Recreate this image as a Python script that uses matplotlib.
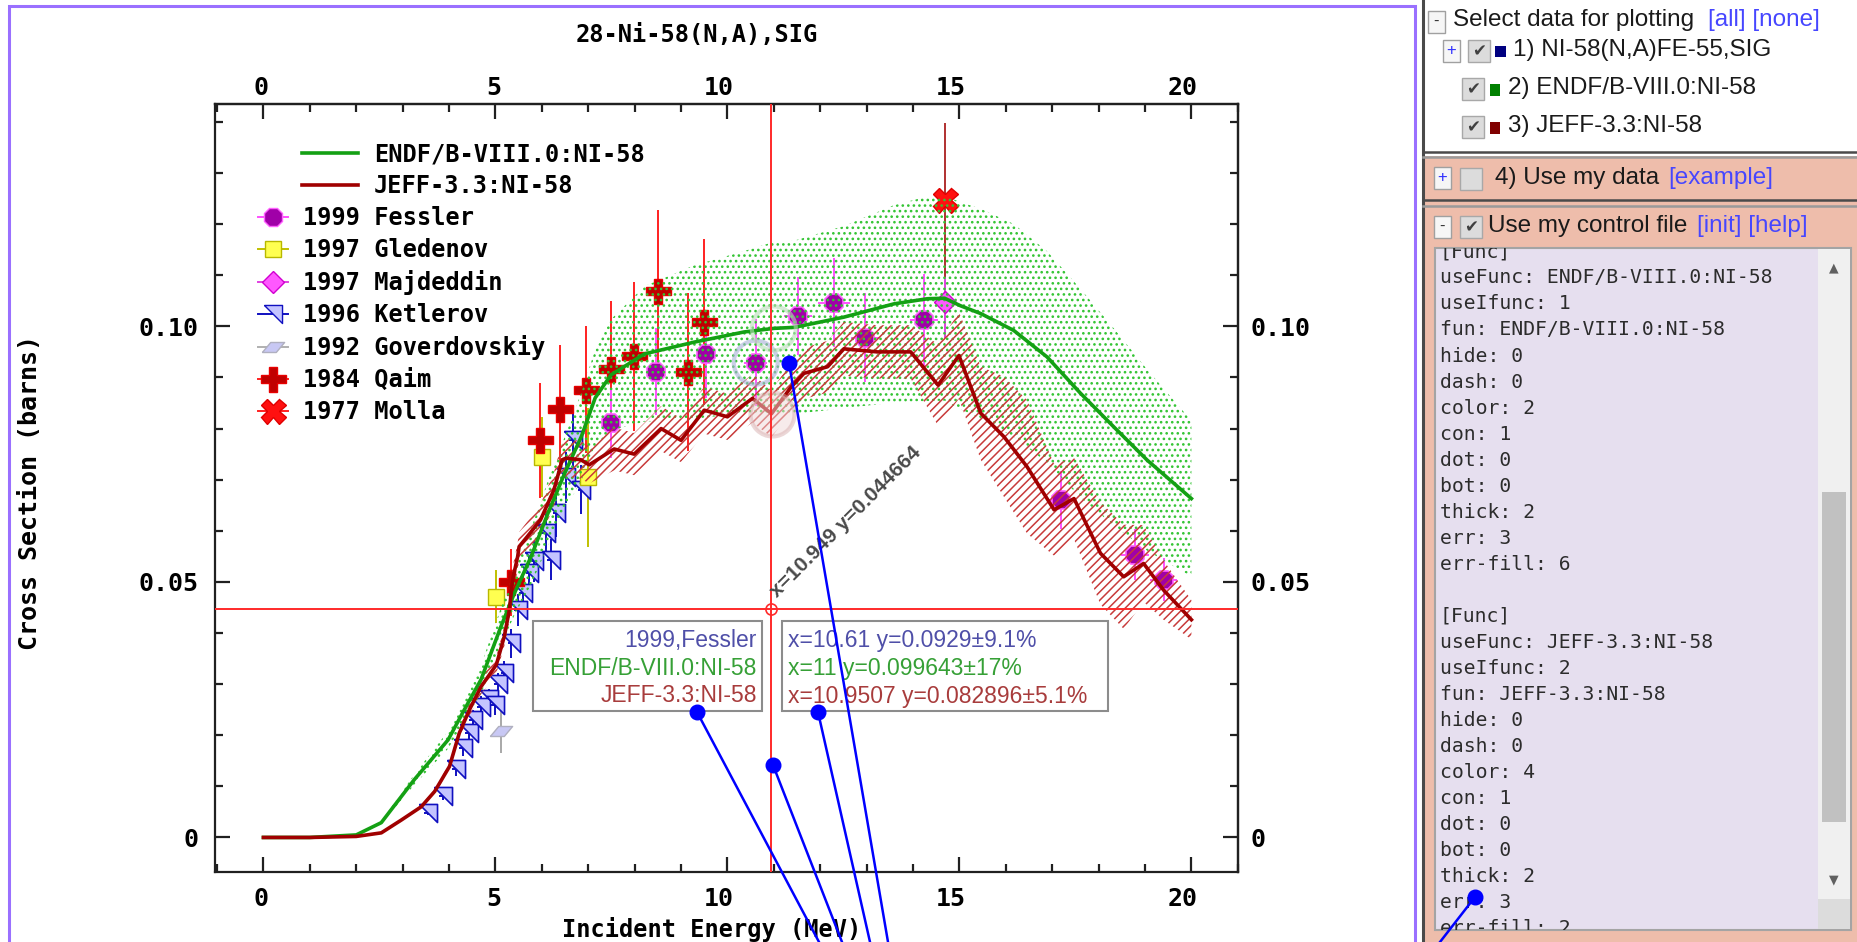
import matplotlib
matplotlib.use("Agg")
import numpy as np
import matplotlib.pyplot as plt
from matplotlib.lines import Line2D
from matplotlib.patches import Rectangle
from matplotlib.transforms import ScaledTranslation
from matplotlib.ticker import MultipleLocator, FixedLocator, FuncFormatter

# evaluated cross sections, energy in MeV, sigma in barns
endf_e = [0.0, 1.0, 2.0, 2.54, 3.25, 3.98, 4.33, 4.69, 5.12, 5.41, 5.77, 6.13, 6.49, 6.85, 7.15, 7.49,
          8.21, 9.28, 10.36, 11.0, 11.44, 12.51, 13.59, 14.31, 14.68, 15.03, 15.46, 16.17, 16.89,
          17.61, 18.33, 19.05, 20.0]
endf_v = [0.0, 0.0, 0.0005, 0.0029, 0.0113, 0.0191, 0.0250, 0.0309, 0.0413, 0.0478, 0.0550, 0.0634,
          0.0712, 0.0784, 0.0860, 0.0905, 0.0946, 0.0969, 0.0989, 0.0996, 0.0998, 0.1018, 0.1044,
          0.1054, 0.1055, 0.1040, 0.1025, 0.0992, 0.0940, 0.0869, 0.0803, 0.0738, 0.0663]
endf_unc = [0.03, 0.03, 0.05, 0.08, 0.09, 0.09, 0.09, 0.09, 0.09, 0.09, 0.10, 0.10, 0.10, 0.11, 0.11,
            0.12, 0.14, 0.155, 0.16, 0.17, 0.17, 0.175, 0.185, 0.19, 0.19, 0.195, 0.20, 0.21, 0.22,
            0.235, 0.24, 0.24, 0.23]

jeff_e = [0.0, 1.0, 2.0, 2.54, 2.97, 3.40, 3.69, 4.01, 4.22, 4.44, 4.69, 5.02, 5.19, 5.30, 5.37,
          5.48, 5.51, 5.69, 5.97, 6.26, 6.44, 6.52, 6.84, 7.02, 7.56, 7.99, 8.57, 9.0, 9.5, 10.0,
          10.54, 10.95, 11.37, 11.65, 12.16, 12.51, 13.23, 13.95, 14.54, 14.99, 15.46, 15.96,
          16.46, 17.04, 17.47, 18.04, 18.54, 18.97, 19.40, 20.0]
jeff_v = [0.0, 0.0, 0.0002, 0.0009, 0.0034, 0.0060, 0.0090, 0.0139, 0.0204, 0.0250, 0.0295, 0.0338,
          0.0393, 0.0445, 0.0504, 0.0550, 0.0569, 0.0589, 0.0621, 0.0680, 0.0739, 0.0742, 0.0739,
          0.0729, 0.0760, 0.0750, 0.0800, 0.0777, 0.0836, 0.0823, 0.0859, 0.0829, 0.0881, 0.0908,
          0.0921, 0.0956, 0.0950, 0.0950, 0.0885, 0.0943, 0.0830, 0.0784, 0.0725, 0.0641, 0.0663,
          0.0556, 0.0510, 0.0536, 0.0484, 0.0426]
jeff_unc = [0.03, 0.03, 0.03, 0.04] + [0.05] * 20 + [0.055] * 14 + \
           [0.09, 0.09, 0.11, 0.15, 0.18, 0.14, 0.12, 0.18, 0.20, 0.14, 0.12, 0.09]

# measurements (EXFOR)
fessler_e = [7.48, 8.47, 9.54, 10.61, 11.53, 12.30, 12.96, 14.24, 17.18, 18.79, 19.40]
fessler_v = [0.0810, 0.0911, 0.0946, 0.0929, 0.1020, 0.1046, 0.0978, 0.1012, 0.0660, 0.0553, 0.0504]
fessler_dv = [0.0068, 0.0085, 0.0086, 0.0085, 0.0077, 0.0087, 0.0087, 0.0090, 0.0056, 0.0050, 0.0042]
fessler_de = [0.2, 0.2, 0.2, 0.25, 0.3, 0.35, 0.3, 0.3, 0.3, 0.3, 0.3]

gledenov_e = [5.02, 6.0, 7.0]
gledenov_v = [0.0471, 0.0745, 0.0705]
gledenov_dv = [0.0052, 0.0078, 0.0136]

majdeddin_e = [14.68]
majdeddin_v = [0.1047]
majdeddin_dv = [0.007]

ketlerov_e = [3.55, 3.87, 4.15, 4.30, 4.42, 4.51, 4.69, 4.87, 4.98, 5.05, 5.19, 5.34, 5.48, 5.59,
              5.73, 5.84, 6.09, 6.20, 6.31, 6.52, 6.67, 6.85]
ketlerov_v = [0.0048, 0.0081, 0.0133, 0.0175, 0.0204, 0.0230, 0.0256, 0.0270, 0.0260, 0.0300, 0.0322,
              0.0380, 0.0445, 0.0478, 0.0517, 0.0540, 0.0595, 0.0543, 0.0634, 0.0705, 0.0777, 0.0680]
ketlerov_dv = [0.0005, 0.0008, 0.0012, 0.0015, 0.0017, 0.0019, 0.0020, 0.0020, 0.0020, 0.0022, 0.0024,
               0.0028, 0.0032, 0.0035, 0.0038, 0.0040, 0.0043, 0.0040, 0.0046, 0.0050, 0.0055, 0.0048]

goverdovskiy_e = [5.11]
goverdovskiy_v = [0.0208]
goverdovskiy_dv = [0.0042]

qaim_e = [5.34, 5.97, 6.39, 6.95, 7.48, 7.98, 8.51, 9.16, 9.50]
qaim_v = [0.0499, 0.0777, 0.0839, 0.0876, 0.0917, 0.0941, 0.1070, 0.0911, 0.1008]
qaim_dv = [0.0065, 0.0112, 0.0125, 0.0124, 0.0133, 0.0146, 0.0157, 0.0154, 0.0162]

molla_e = [14.68]
molla_v = [0.1247]
molla_dv = [0.015]

cross_x, cross_y = 10.949, 0.044664

control_lines = ["[Func]", "useFunc: ENDF/B-VIII.0:NI-58", "useIfunc: 1", "fun: ENDF/B-VIII.0:NI-58",
                 "hide: 0", "dash: 0", "color: 2", "con: 1", "dot: 0", "bot: 0", "thick: 2", "err: 3",
                 "err-fill: 6", "", "[Func]", "useFunc: JEFF-3.3:NI-58", "useIfunc: 2",
                 "fun: JEFF-3.3:NI-58", "hide: 0", "dash: 0", "color: 4", "con: 1", "dot: 0", "bot: 0",
                 "thick: 2", "err: 3", "err-fill: 2"]

# pixel layout of the screenshot
W, H = 1858, 942
MONO = 'DejaVu Sans Mono'
SANS = 'Liberation Sans'

plt.rcParams['font.family'] = MONO
plt.rcParams['font.weight'] = 'bold'
plt.rcParams['font.size'] = 17
plt.rcParams['hatch.linewidth'] = 1.1

fig = plt.figure(figsize=(W / 100, H / 100), dpi=100)


def fx(x):
    return x / W


def fy(y):
    return 1 - y / H


def prect(x0, y0, x1, y1, **kw):
    r = Rectangle((fx(x0), fy(y1)), (x1 - x0) / W, (y1 - y0) / H, transform=fig.transFigure, **kw)
    fig.add_artist(r)
    return r


def ptext(x, y, s, **kw):
    kw.setdefault('va', 'center')
    return fig.text(fx(x), fy(y), s, **kw)


ax = fig.add_axes([fx(215.2), fy(871.7), (1237.8 - 215.2) / W, (871.7 - 104) / H])
ax.set_xlim(-1.04, 21.0)
ax.set_ylim(-0.0067, 0.1435)
for s in ax.spines.values():
    s.set_linewidth(1.6)
    s.set_color('#202020')

xticks = [0, 5, 10, 15, 20]
xfmt = FuncFormatter(lambda v, p: '%d' % round(v))
yfmt = FuncFormatter(lambda v, p: '0' if abs(v) < 1e-9 else '%.2f' % v)
ax.xaxis.set_major_locator(FixedLocator(xticks))
ax.xaxis.set_minor_locator(MultipleLocator(1))
ax.xaxis.set_major_formatter(xfmt)
ax.yaxis.set_major_locator(FixedLocator([0, 0.05, 0.10]))
ax.yaxis.set_minor_locator(MultipleLocator(0.01))
ax.yaxis.set_major_formatter(yfmt)
ax.tick_params(which='both', direction='in', width=1.6, color='#202020', top=False, right=False,
               labelsize=18)
ax.tick_params(which='major', length=11)
ax.tick_params(which='minor', length=6)
ax.tick_params(axis='x', pad=11)
ax.tick_params(axis='y', pad=12)

top = ax.secondary_xaxis('top')
top.xaxis.set_major_locator(FixedLocator(xticks))
top.xaxis.set_minor_locator(MultipleLocator(1))
top.xaxis.set_major_formatter(xfmt)
top.tick_params(which='both', direction='in', width=1.6, color='#202020', pad=3, labelsize=18)
top.tick_params(which='major', length=11)
top.tick_params(which='minor', length=6)
rgt = ax.secondary_yaxis('right')
rgt.yaxis.set_major_locator(FixedLocator([0, 0.05, 0.10]))
rgt.yaxis.set_minor_locator(MultipleLocator(0.01))
rgt.yaxis.set_major_formatter(yfmt)
rgt.tick_params(which='both', direction='in', width=1.6, color='#202020', pad=9.5, labelsize=18)
rgt.tick_params(which='major', length=11)
rgt.tick_params(which='minor', length=6)
for sa in (top, rgt):
    for s in sa.spines.values():
        s.set_linewidth(1.6)
        s.set_color('#202020')

# the energy labels sit slightly left of their ticks in the original
for xa in (ax.xaxis, top.xaxis):
    for i, t in enumerate(xa.get_major_ticks(len(xticks))):
        off = ScaledTranslation((-2 if xticks[i] < 10 else -9) / 100, 0, fig.dpi_scale_trans)
        t.label1.set_transform(t.label1.get_transform() + off)
        t.label2.set_transform(t.label2.get_transform() + off)

# uncertainty bands
ev, eu = np.array(endf_v), np.array(endf_unc)
jv, ju = np.array(jeff_v), np.array(jeff_unc)
ax.fill_between(endf_e, ev * (1 - eu), ev * (1 + eu), facecolor='none', edgecolor='#33c433',
                hatch='...', linewidth=0, zorder=3)
ax.fill_between(jeff_e, jv * (1 - ju), jv * (1 + ju), facecolor='none', edgecolor='#c83a3a',
                hatch='////', linewidth=0, zorder=3)

# experimental points
eb = dict(linestyle='none', elinewidth=1.4, capsize=0, zorder=2)
ket_marker = [(-1, 1), (1, 1), (1, -1), (-1, 1)]
gov_marker = [(-1, -0.45), (0.25, -0.45), (1, 0.45), (-0.25, 0.45), (-1, -0.45)]
ax.errorbar(ketlerov_e, ketlerov_v, yerr=ketlerov_dv, xerr=0.08, marker=ket_marker, ms=13,
            mfc='#c4c4ff', mec='#1010c0', mew=1.2, ecolor='#1010c0', **eb)
ax.errorbar(goverdovskiy_e, goverdovskiy_v, yerr=goverdovskiy_dv, marker=gov_marker, ms=16,
            mfc='#c8c8f4', mec='#b0b0c0', ecolor='#a8a8a8', **eb)
ax.errorbar(gledenov_e, gledenov_v, yerr=gledenov_dv, marker='s', ms=12, mfc='#ffff50',
            mec='#b8b800', ecolor='#c0c000', **eb)
ax.errorbar(qaim_e, qaim_v, yerr=qaim_dv, marker='P', ms=18, mfc='#c00000', mec='#e80000',
            ecolor='#ff2020', **eb)
ax.errorbar(fessler_e, fessler_v, yerr=fessler_dv, xerr=fessler_de, marker='8', ms=14,
            mfc='#a000a8', mec='#ff60ff', mew=1.2, ecolor='#ff50ff', **eb)
ax.errorbar(majdeddin_e, majdeddin_v, yerr=majdeddin_dv, marker='D', ms=11.5, mfc='#ff58ff',
            mec='#d000d0', ecolor='#e040e0', **eb)
ax.errorbar(molla_e, molla_v, yerr=molla_dv, marker='X', ms=18, mfc='#ff1010', mec='#e00000',
            ecolor='#b03030', **eb)

# evaluated curves
ax.plot(endf_e, endf_v, color='#14a014', lw=2.6, zorder=5)
ax.plot(jeff_e, jeff_v, color='#a00000', lw=2.6, zorder=6)

# faint highlight rings of the hovered points
ax.scatter([fessler_e[3]], [fessler_v[3]], s=1000, facecolors='none', edgecolors='#a8b0d8',
           linewidths=3, alpha=0.6, zorder=7)
ax.scatter([11.0], [0.0996], s=1000, facecolors='none', edgecolors='#b8dcb8', linewidths=3,
           alpha=0.6, zorder=7)
ax.scatter([10.95], [0.0829], s=1000, facecolors='#f0d8d8', edgecolors='#d8b0b0', linewidths=3,
           alpha=0.5, zorder=7)

# cursor cross-hair
ax.axvline(cross_x, color='#ff2a2a', lw=1.4, zorder=8)
ax.axhline(cross_y, color='#ff2a2a', lw=1.4, zorder=8)
ax.plot([cross_x], [cross_y], marker='o', ms=8, mfc='none', mec='#ff2a2a', mew=1.2, zorder=9)
ax.annotate('x=%s y=%s' % (cross_x, cross_y), (cross_x, cross_y), xytext=(4, 8),
            textcoords='offset points', rotation=45, rotation_mode='anchor', ha='left',
            va='baseline', fontsize=15, family=SANS, fontweight='bold', color='#4a4a4a', zorder=9)

# legends
lh = [Line2D([], [], color='#14a014', lw=2.6), Line2D([], [], color='#a00000', lw=2.6)]
leg1 = ax.legend(lh, ['ENDF/B-VIII.0:NI-58', 'JEFF-3.3:NI-58'], loc='upper left',
                 bbox_to_anchor=(fx(302), fy(142)), bbox_transform=fig.transFigure, frameon=False,
                 borderpad=0, borderaxespad=0, handlelength=2.37, handletextpad=0.68,
                 labelspacing=0.34, prop=dict(family=MONO, weight='bold', size=17))
ax.add_artist(leg1)
mh = [Line2D([], [], color='#ff50ff', lw=1.4, marker='8', ms=14, mfc='#a000a8', mec='#ff60ff'),
      Line2D([], [], color='#c0c000', lw=1.4, marker='s', ms=12, mfc='#ffff50', mec='#b8b800'),
      Line2D([], [], color='#e040e0', lw=1.4, marker='D', ms=11.5, mfc='#ff58ff', mec='#d000d0'),
      Line2D([], [], color='#1010c0', lw=1.4, marker=ket_marker, ms=13, mfc='#c4c4ff', mec='#1010c0'),
      Line2D([], [], color='#b0b0b0', lw=1.4, marker=gov_marker, ms=16, mfc='#c8c8f4', mec='#b0b0c0'),
      Line2D([], [], color='#ff2020', lw=1.4, marker='P', ms=18, mfc='#c00000', mec='#e80000'),
      Line2D([], [], color='#ff2020', lw=1.4, marker='X', ms=18, mfc='#ff1010', mec='#e00000')]
ml = ['1999 Fessler', '1997 Gledenov', '1997 Majdeddin', '1996 Ketlerov', '1992 Goverdovskiy',
      '1984 Qaim', '1977 Molla']
ax.legend(mh, ml, loc='upper left', bbox_to_anchor=(fx(258), fy(206)),
          bbox_transform=fig.transFigure, frameon=False, borderpad=0, borderaxespad=0,
          handlelength=1.27, handletextpad=0.64, labelspacing=0.34, numpoints=1,
          prop=dict(family=MONO, weight='bold', size=17))

ptext(697, 35, '28-Ni-58(N,A),SIG', ha='center')
ptext(30, 492, 'Cross Section (barns)', ha='center', rotation=90, size=18)
ptext(712, 929, 'Incident Energy (MeV)', ha='center')

# hover tooltips
prect(533, 621, 762, 711, facecolor='white', edgecolor='#8c8c8c', lw=1.5, zorder=4)
prect(782, 621, 1108, 711, facecolor='white', edgecolor='#8c8c8c', lw=1.5, zorder=4)
tip_cols = ['#4f4fa8', '#36a036', '#a83c3c']
tip_names = ['1999,Fessler', 'ENDF/B-VIII.0:NI-58', 'JEFF-3.3:NI-58']
tip_vals = ['x=10.61 y=0.0929\u00b19.1%', 'x=11 y=0.099643\u00b117%', 'x=10.9507 y=0.082896\u00b15.1%']
for i in range(3):
    ptext(757, 641 + 27.5 * i, tip_names[i], ha='right', family=SANS, weight='normal', size=16.5,
          color=tip_cols[i], zorder=5)
    ptext(788, 641 + 27.5 * i, tip_vals[i], ha='left', family=SANS, weight='normal', size=16.5,
          color=tip_cols[i], zorder=5)

# page frame and right hand control panel
prect(9, 6, 1415, 960, facecolor='none', edgecolor='#9a70ff', lw=2.2, zorder=1)
prect(1424, 156, 1870, 960, facecolor='#eebdab', edgecolor='none', zorder=1)
fig.add_artist(Line2D([fx(1423), fx(1423)], [fy(0), fy(942)], transform=fig.transFigure,
                      color='#4a4a4a', lw=2.2))
for yy, cc in [(152, '#4a4a4a'), (157, '#9a9a9a'), (200, '#4a4a4a'), (206, '#9a9a9a')]:
    fig.add_artist(Line2D([fx(1423), fx(1858)], [fy(yy), fy(yy)], transform=fig.transFigure,
                          color=cc, lw=1.8))

PANEL = dict(family=SANS, weight='normal', size=17.5, color='#1a1a1a')
LINK = dict(family=SANS, weight='normal', size=17.5, color='#4646ff')


def toggle(x0, y0, sign):
    prect(x0, y0, x0 + 17, y0 + 22, facecolor='#f6f6f6', edgecolor='#a0a0a0', lw=1.0, zorder=2)
    ptext(x0 + 8.5, y0 + 10, sign, ha='center', family=SANS, weight='normal', size=12,
          color='#3030ff' if sign == '+' else '#303030', zorder=3)


def checkbox(x0, y0, checked=True):
    prect(x0, y0, x0 + 22, y0 + 22, facecolor='#dcdcdc', edgecolor='#a8a8a8', lw=1.0, zorder=2)
    if checked:
        ptext(x0 + 11, y0 + 11, '\u2714', ha='center', family='DejaVu Sans', weight='normal',
              size=12, color='#404040', zorder=3)


toggle(1428, 11, '-')
ptext(1453, 20, 'Select data for plotting', **PANEL)
ptext(1708, 20, '[all] [none]', **LINK)
toggle(1443, 40, '+')
checkbox(1468, 40)
prect(1495, 46, 1506, 57, facecolor='#000080', edgecolor='none', zorder=2)
ptext(1513, 50, '1) NI-58(N,A)FE-55,SIG', **PANEL)
checkbox(1462, 78)
prect(1490, 84, 1500, 96, facecolor='#008000', edgecolor='none', zorder=2)
ptext(1508, 88, '2) ENDF/B-VIII.0:NI-58', **PANEL)
checkbox(1462, 116)
prect(1490, 122, 1500, 134, facecolor='#800000', edgecolor='none', zorder=2)
ptext(1508, 126, '3) JEFF-3.3:NI-58', **PANEL)
toggle(1434, 167, '+')
checkbox(1460, 168, checked=False)
ptext(1495, 178, '4) Use my data', **PANEL)
ptext(1668, 178, '[example]', **LINK)
toggle(1434, 216, '-')
checkbox(1460, 216)
ptext(1488, 226, 'Use my control file', **PANEL)
ptext(1697, 226, '[init] [help]', **LINK)

area = prect(1435, 248, 1851, 930, facecolor='#e6dfef', edgecolor='#a4a4a4', lw=1.5, zorder=2)
prect(1818, 249, 1850, 929, facecolor='#f0f0f0', edgecolor='none', zorder=2)
prect(1822, 492, 1846, 822, facecolor='#c1c1c1', edgecolor='none', zorder=2)
prect(1818, 899, 1850, 929, facecolor='#dcdcdc', edgecolor='none', zorder=2)
ptext(1834, 268, '\u25b2', ha='center', family='DejaVu Sans', size=9, color='#606060', zorder=3)
ptext(1834, 880, '\u25bc', ha='center', family='DejaVu Sans', size=9, color='#606060', zorder=3)
for i, line in enumerate(control_lines):
    t = ptext(1440, 252 + 26 * i, line, ha='left', family=MONO, weight='normal', size=14.2,
              color='#2c2c2c', zorder=3)
    t.set_clip_path(area)

# blue pointer strokes drawn over the screenshot
pointer_lines = [((697, 712), (819, 942)), ((773, 765), (842, 942)), ((818, 712), (870, 942)),
                 ((789, 363), (888, 942)), ((1475, 897), (1440, 942))]
for (x0, y0), (x1, y1) in pointer_lines:
    fig.add_artist(Line2D([fx(x0), fx(x1)], [fy(y0), fy(y1)], transform=fig.transFigure,
                          color='#0000ff', lw=1.8, zorder=10))
    fig.add_artist(Line2D([fx(x0)], [fy(y0)], transform=fig.transFigure, marker='o', ms=10.5,
                          color='#0000ff', zorder=10))

fig.savefig('out.png', dpi=100)
